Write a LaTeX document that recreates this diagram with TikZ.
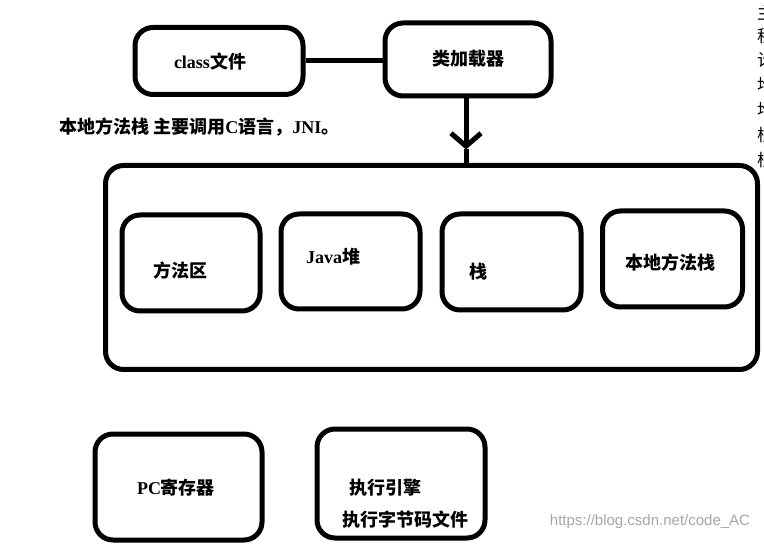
\documentclass[tikz,border=0pt]{standalone}
\usepackage{fontspec}
\setmainfont{Liberation Serif}
\setsansfont{Liberation Sans}
\newfontfamily\cjk{Noto Sans CJK SC}
\newcommand{\zh}[1]{{\cjk #1}}
\usetikzlibrary{positioning, arrows.meta, calc}
\tikzstyle{box} = [rectangle, rounded corners=18pt, line width=5pt, draw=black, fill=white, inner sep=0pt]
\tikzstyle{line} = [line width=5pt]
\tikzstyle{arrow} = [line width=5pt, -{Straight Barb[length=13pt, width=30pt]}]
\tikzstyle{txt} = [font=\fontsize{18}{21}\selectfont\bfseries, inner sep=0pt]
\tikzstyle{wmark} = [font=\sffamily\fontsize{15}{17}\selectfont, text=black!35, inner sep=0pt]

\begin{document}
\begin{tikzpicture}[x=1pt, y=-1pt]
        \useasboundingbox (0,0) rectangle (764,548);
        % top row
        \node (classfile) [box, minimum width=168pt, minimum height=67pt] at (219,61) {};
        \node (loader) [box, minimum width=166pt, minimum height=73pt] at (468,59.5) {};
        \node (classtxt) [txt] at (210,62) {class\zh{文件}};
        \node (loadertxt) [txt] at (468,59) {\zh{类加载器}};
        \node (note) [txt, anchor=west] at (59,127) {\zh{本地方法栈 主要调用}C\zh{语言，}JNI\zh{。}};

        % runtime data area
        \node (jvm) [box, minimum width=652pt, minimum height=204pt] at (431.5,267.5) {};
        \node (method) [box, minimum width=138pt, minimum height=96pt] at (191,263) {};
        \node (heap) [box, minimum width=139pt, minimum height=95pt] at (350.5,261.5) {};
        \node (stack) [box, minimum width=139pt, minimum height=96pt] at (511.5,262) {};
        \node (native) [box, minimum width=140pt, minimum height=96pt] at (672.5,259) {};
        \node (methodtxt) [txt] at (180,271) {\zh{方法区}};
        \node (heaptxt) [txt] at (333,257) {Java\zh{堆}};
        \node (stacktxt) [txt] at (478,272) {\zh{栈}};
        \node (nativetxt) [txt] at (670,263) {\zh{本地方法栈}};

        % bottom row
        \node (pc) [box, minimum width=167pt, minimum height=106pt] at (178.5,487) {};
        \node (engine) [box, minimum width=168pt, minimum height=109pt] at (401,483.5) {};
        \node (pctxt) [txt] at (176,488) {PC\zh{寄存器}};
        \node (enginetxt) [txt] at (385,488) {\zh{执行引擎}};
        \node (bytecode) [txt] at (405,520) {\zh{执行字节码文件}};

        \coordinate (tip) at ([xshift=-2pt, yshift=-51pt]loader.south);

        \draw [line] (classfile.east) -- (classfile.east -| loader.west);
        \draw [arrow] (tip |- loader.south) -- (tip);
        \draw [line] (tip) -- (tip |- jvm.north);

        % text cut off at the right edge
        \foreach \y/\c in {13/主, 36/程, 60/计, 85/堆, 110/堆, 135/栈, 160/栈}
            \node [txt, anchor=west, font=\fontsize{17}{20}\selectfont] at (757,\y) {\zh{\c}};

        \node (url) [wmark] at (650,522) {https://blog.csdn.net/code\_AC};
    \end{tikzpicture}
\end{document}
